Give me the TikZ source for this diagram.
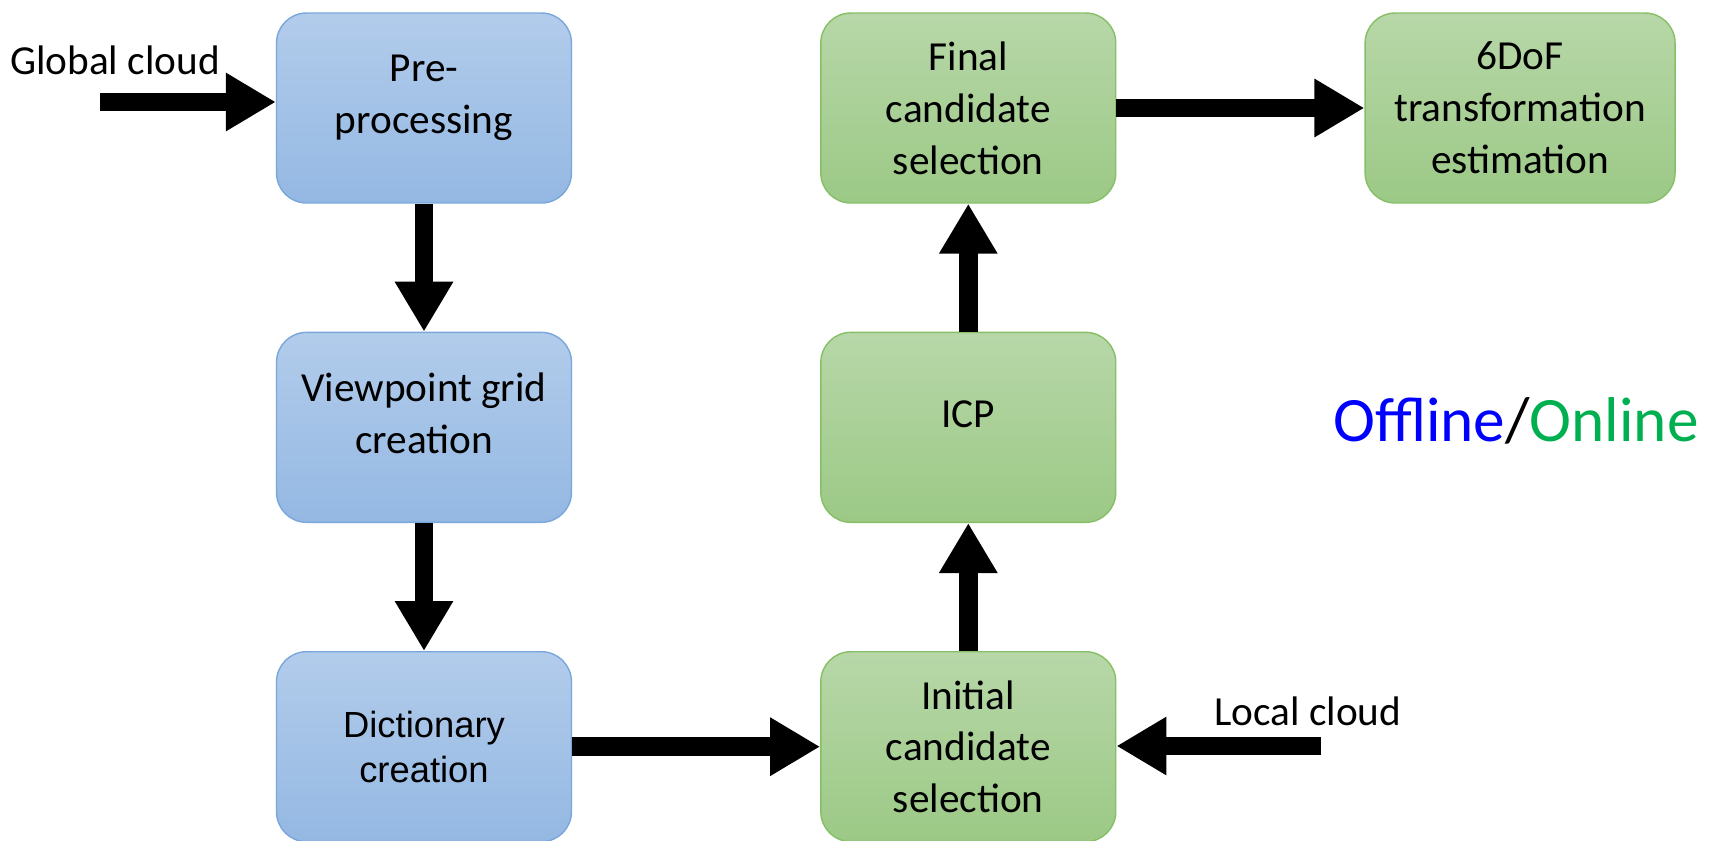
\documentclass[tikz,border=0pt]{standalone}
\usepackage{fontspec}
\setmainfont{Carlito}
\newfontfamily\arialfont{Liberation Sans}
\usepackage{xcolor}
\usepackage{tikz}
\usetikzlibrary{arrows.meta,positioning}
\definecolor{offtop}{RGB}{178,204,235}
\definecolor{offbot}{RGB}{148,184,227}
\definecolor{offedge}{RGB}{122,167,219}
\definecolor{ontop}{RGB}{183,215,168}
\definecolor{onbot}{RGB}{156,201,134}
\definecolor{onedge}{RGB}{134,191,102}
\definecolor{offblue}{RGB}{0,0,255}
\definecolor{ongreen}{RGB}{0,176,80}
% text sits a little above the middle in some boxes
\newcommand{\liftby}[2]{\raisebox{#1}[\height][\depth]{\begin{tabular}{@{}c@{}}#2\end{tabular}}}
\tikzset{
  stage/.style={rounded corners=0.6cm, minimum width=5.9cm, minimum height=3.8cm,
    align=center, line width=0.8pt, inner sep=2pt},
  offstage/.style={stage, draw=offedge, top color=offtop, bottom color=offbot},
  onstage/.style={stage, draw=onedge, top color=ontop, bottom color=onbot},
  flow/.style={-{Triangle[length=1cm, width=1.1cm]}, line width=0.37cm},
  tag/.style={inner sep=0pt}
}

\begin{document}
\begin{tikzpicture}[x=0.02cm, y=-0.02cm, node distance=2.56cm and 4.96cm,
    font=\fontsize{23.5}{29.5}\selectfont]
        \useasboundingbox (0,0) rectangle (1715,840);
        \node[offstage] (prep) at (424,108) {\liftby{0.22cm}{Pre-\\processing}};
        \node[offstage, below=of prep] (grid) {\liftby{0.21cm}{Viewpoint grid\\creation}};
        \node[offstage, below=of grid, font=\arialfont\fontsize{20.7}{25.5}\selectfont] (dict) {Dictionary\\creation};
        \node[onstage, right=of dict] (init) {Initial\\candidate\\selection};
        \node[onstage, above=of init] (icp) {\liftby{0.21cm}{ICP}};
        \node[onstage, above=of icp] (final) {Final\\candidate\\selection};
        \node[onstage, right=of final, minimum width=6.2cm] (pose) {6DoF\\transformation\\estimation};
        \coordinate (gin) at (100,102);
        \coordinate (lin) at (1321,746);
        \node[tag] (gtext) at (115,60) {Global cloud};
        \node[tag] (ltext) at (1308,711) {Local cloud};
        \node[tag] (mode) at (1516,421) {\fontsize{36}{43}\selectfont\textcolor{offblue}{Offline}/\textcolor{ongreen}{Online}};
        \draw[flow] (gin) -- (gin -| prep.west);
        \draw[flow] (prep) -- (grid);
        \draw[flow] (grid) -- (dict);
        \draw[flow] (dict) -- (init);
        \draw[flow] (lin) -- (lin -| init.east);
        \draw[flow] (init) -- (icp);
        \draw[flow] (icp) -- (final);
        \draw[flow] (final) -- (pose);
    \end{tikzpicture}
\end{document}
